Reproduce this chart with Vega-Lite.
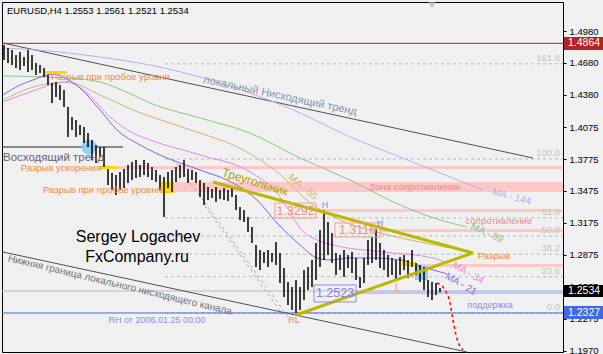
{
"$schema": "https://vega.github.io/schema/vega-lite/v6.json",
"width": 561, "height": 350,
"autosize": {"type": "none"},
"padding": {"left": 2, "top": 2, "right": 40, "bottom": 2},
"background": "#f0f0f0",
"config": {"view": {"stroke": "#000000", "strokeWidth": 1}, "font": "Liberation Sans",
 "axisY": {"domain": false, "grid": false, "tickColor": "#000000", "tickSize": 3, "labelColor": "#000000", "labelFont": "Liberation Sans", "labelFontSize": 9.5, "labelPadding": 3, "labelOverlap": false, "labelBound": false, "labelFlush": false}},
"resolve": {"scale": {"color": "independent"}},
"datasets": {
"bars": [
{"t":0.5,"p":1.4848,"p2":1.4707},{"t":1.5,"p":1.4820,"p2":1.4679},{"t":2.5,"p":1.4801,"p2":1.4660},{"t":3.5,"p":1.4754,"p2":1.4632},{"t":4.5,"p":1.4782,"p2":1.4613},{"t":5.5,"p":1.4735,"p2":1.4651},{"t":6.5,"p":1.4801,"p2":1.4594},{"t":7.5,"p":1.4754,"p2":1.4613},{"t":8.5,"p":1.4679,"p2":1.4566},{"t":9.5,"p":1.4660,"p2":1.4585},
{"t":10.5,"p":1.4632,"p2":1.4547},{"t":11.5,"p":1.4566,"p2":1.4472},{"t":12.5,"p":1.4491,"p2":1.4303},{"t":13.5,"p":1.4500,"p2":1.4359},{"t":14.5,"p":1.4472,"p2":1.4331},{"t":15.5,"p":1.4425,"p2":1.4265},{"t":16.5,"p":1.4265,"p2":1.3983},{"t":17.5,"p":1.4171,"p2":1.4049},{"t":18.5,"p":1.4143,"p2":1.3983},{"t":19.5,"p":1.4096,"p2":1.4002},
{"t":20.5,"p":1.4077,"p2":1.3926},{"t":21.5,"p":1.4020,"p2":1.3889},{"t":22.5,"p":1.3955,"p2":1.3767},{"t":23.5,"p":1.3908,"p2":1.3738},{"t":24.5,"p":1.3889,"p2":1.3795},{"t":25.5,"p":1.3889,"p2":1.3701},{"t":26.5,"p":1.3682,"p2":1.3531},{"t":27.5,"p":1.3644,"p2":1.3484},{"t":28.5,"p":1.3625,"p2":1.3437},{"t":29.5,"p":1.3654,"p2":1.3484},
{"t":30.5,"p":1.3682,"p2":1.3503},{"t":31.5,"p":1.3720,"p2":1.3550},{"t":32.5,"p":1.3748,"p2":1.3578},{"t":33.5,"p":1.3767,"p2":1.3597},{"t":34.5,"p":1.3720,"p2":1.3607},{"t":35.5,"p":1.3767,"p2":1.3625},{"t":36.5,"p":1.3738,"p2":1.3607},{"t":37.5,"p":1.3701,"p2":1.3578},{"t":38.5,"p":1.3672,"p2":1.3560},{"t":39.5,"p":1.3625,"p2":1.3484},
{"t":40.5,"p":1.3607,"p2":1.3230},{"t":41.5,"p":1.3654,"p2":1.3503},{"t":42.5,"p":1.3672,"p2":1.3465},{"t":43.5,"p":1.3701,"p2":1.3560},{"t":44.5,"p":1.3720,"p2":1.3597},{"t":45.5,"p":1.3767,"p2":1.3607},{"t":46.5,"p":1.3682,"p2":1.3550},{"t":47.5,"p":1.3672,"p2":1.3578},{"t":48.5,"p":1.3654,"p2":1.3550},{"t":49.5,"p":1.3578,"p2":1.3418},
{"t":50.5,"p":1.3550,"p2":1.3343},{"t":51.5,"p":1.3512,"p2":1.3390},{"t":52.5,"p":1.3494,"p2":1.3409},{"t":53.5,"p":1.3512,"p2":1.3371},{"t":54.5,"p":1.3484,"p2":1.3400},{"t":55.5,"p":1.3503,"p2":1.3390},{"t":56.5,"p":1.3484,"p2":1.3381},{"t":57.5,"p":1.3512,"p2":1.3418},{"t":58.5,"p":1.3437,"p2":1.3296},{"t":59.5,"p":1.3324,"p2":1.3202},
{"t":60.5,"p":1.3296,"p2":1.3183},{"t":61.5,"p":1.3230,"p2":1.3089},{"t":62.5,"p":1.3136,"p2":1.2986},{"t":63.5,"p":1.2967,"p2":1.2760},{"t":64.5,"p":1.2920,"p2":1.2732},{"t":65.5,"p":1.2901,"p2":1.2798},{"t":66.5,"p":1.2920,"p2":1.2760},{"t":67.5,"p":1.2892,"p2":1.2807},{"t":68.5,"p":1.2995,"p2":1.2779},{"t":69.5,"p":1.2892,"p2":1.2609},
{"t":70.5,"p":1.2751,"p2":1.2478},{"t":71.5,"p":1.2619,"p2":1.2403},{"t":72.5,"p":1.2572,"p2":1.2355},{"t":73.5,"p":1.2638,"p2":1.2327},{"t":74.5,"p":1.2572,"p2":1.2355},{"t":75.5,"p":1.2732,"p2":1.2450},{"t":76.5,"p":1.2760,"p2":1.2544},{"t":77.5,"p":1.2826,"p2":1.2572},{"t":78.5,"p":1.2986,"p2":1.2638},{"t":79.5,"p":1.3108,"p2":1.2760},
{"t":80.5,"p":1.3292,"p2":1.2826},{"t":81.5,"p":1.3183,"p2":1.2873},{"t":82.5,"p":1.3080,"p2":1.2798},{"t":83.5,"p":1.2892,"p2":1.2685},{"t":84.5,"p":1.2873,"p2":1.2732},{"t":85.5,"p":1.2920,"p2":1.2666},{"t":86.5,"p":1.2873,"p2":1.2751},{"t":87.5,"p":1.2901,"p2":1.2704},{"t":88.5,"p":1.2845,"p2":1.2638},{"t":89.5,"p":1.2666,"p2":1.2562},
{"t":90.5,"p":1.2845,"p2":1.2609},{"t":91.5,"p":1.3014,"p2":1.2779},{"t":92.5,"p":1.3042,"p2":1.2798},{"t":93.5,"p":1.3116,"p2":1.2826},{"t":94.5,"p":1.2986,"p2":1.2751},{"t":95.5,"p":1.2920,"p2":1.2732},{"t":96.5,"p":1.2873,"p2":1.2666},{"t":97.5,"p":1.2845,"p2":1.2685},{"t":98.5,"p":1.2826,"p2":1.2638},{"t":99.5,"p":1.2854,"p2":1.2685},
{"t":100.5,"p":1.2873,"p2":1.2732},{"t":101.5,"p":1.2826,"p2":1.2657},{"t":102.5,"p":1.2920,"p2":1.2760},{"t":103.5,"p":1.2798,"p2":1.2685},{"t":104.5,"p":1.2779,"p2":1.2619},{"t":105.5,"p":1.2760,"p2":1.2544},{"t":106.5,"p":1.2638,"p2":1.2478},{"t":107.5,"p":1.2619,"p2":1.2450},{"t":108.5,"p":1.2610,"p2":1.2497},{"t":109.5,"p":1.2561,"p2":1.2521}
],
"ma": [
{"ma":"MA-144","t":0.25,"p":1.4820},{"ma":"MA-144","t":12,"p":1.4792},{"ma":"MA-144","t":24.5,"p":1.4735},{"ma":"MA-144","t":37,"p":1.4660},{"ma":"MA-144","t":49.5,"p":1.4547},{"ma":"MA-144","t":62,"p":1.4397},{"ma":"MA-144","t":74.5,"p":1.4209},{"ma":"MA-144","t":87,"p":1.3983},{"ma":"MA-144","t":99.5,"p":1.3795},{"ma":"MA-144","t":112,"p":1.3607},{"ma":"MA-144","t":120.25,"p":1.3484},
{"ma":"MA-89","t":0.25,"p":1.4557},{"ma":"MA-89","t":16.25,"p":1.4538},{"ma":"MA-89","t":24.5,"p":1.4500},{"ma":"MA-89","t":32.75,"p":1.4378},{"ma":"MA-89","t":37,"p":1.4303},{"ma":"MA-89","t":49.5,"p":1.4162},{"ma":"MA-89","t":62,"p":1.4020},{"ma":"MA-89","t":74.5,"p":1.3785},{"ma":"MA-89","t":87,"p":1.3578},{"ma":"MA-89","t":99.5,"p":1.3343},{"ma":"MA-89","t":109.5,"p":1.3202},{"ma":"MA-89","t":116.25,"p":1.3136},
{"ma":"MA-55","t":0.25,"p":1.4331},{"ma":"MA-55","t":7,"p":1.4444},{"ma":"MA-55","t":16.25,"p":1.4500},{"ma":"MA-55","t":24.5,"p":1.4378},{"ma":"MA-55","t":32.75,"p":1.4237},{"ma":"MA-55","t":41.25,"p":1.4124},{"ma":"MA-55","t":49.5,"p":1.4020},{"ma":"MA-55","t":57.75,"p":1.3908},{"ma":"MA-55","t":68.75,"p":1.3654},{"ma":"MA-55","t":77.75,"p":1.3343},{"ma":"MA-55","t":84.5,"p":1.3202},{"ma":"MA-55","t":94.5,"p":1.3080},{"ma":"MA-55","t":104.5,"p":1.2995},{"ma":"MA-55","t":112,"p":1.2939},
{"ma":"MA-34","t":0.25,"p":1.4312},{"ma":"MA-34","t":7,"p":1.4406},{"ma":"MA-34","t":16.25,"p":1.4500},{"ma":"MA-34","t":21.25,"p":1.4397},{"ma":"MA-34","t":27,"p":1.4171},{"ma":"MA-34","t":32.75,"p":1.4020},{"ma":"MA-34","t":37,"p":1.3955},{"ma":"MA-34","t":49.5,"p":1.3814},{"ma":"MA-34","t":62,"p":1.3654},{"ma":"MA-34","t":68.75,"p":1.3456},{"ma":"MA-34","t":72,"p":1.3277},{"ma":"MA-34","t":74.5,"p":1.3127},{"ma":"MA-34","t":78.75,"p":1.3014},{"ma":"MA-34","t":82.75,"p":1.2967},{"ma":"MA-34","t":95.25,"p":1.2901},{"ma":"MA-34","t":107.75,"p":1.2845},{"ma":"MA-34","t":111.25,"p":1.2798},
{"ma":"MA-21","t":0.25,"p":1.4378},{"ma":"MA-21","t":4.5,"p":1.4472},{"ma":"MA-21","t":7.75,"p":1.4519},{"ma":"MA-21","t":11.25,"p":1.4566},{"ma":"MA-21","t":13.25,"p":1.4576},{"ma":"MA-21","t":15.75,"p":1.4538},{"ma":"MA-21","t":19.5,"p":1.4444},{"ma":"MA-21","t":24.5,"p":1.4237},{"ma":"MA-21","t":28.75,"p":1.4049},{"ma":"MA-21","t":34.5,"p":1.3908},{"ma":"MA-21","t":41.25,"p":1.3785},{"ma":"MA-21","t":49.5,"p":1.3672},{"ma":"MA-21","t":57.75,"p":1.3550},{"ma":"MA-21","t":63.75,"p":1.3390},{"ma":"MA-21","t":68.75,"p":1.3174},{"ma":"MA-21","t":74.5,"p":1.2967},{"ma":"MA-21","t":78.75,"p":1.2845},{"ma":"MA-21","t":82,"p":1.2826},{"ma":"MA-21","t":87,"p":1.2845},{"ma":"MA-21","t":92,"p":1.2845},{"ma":"MA-21","t":99.5,"p":1.2826},{"ma":"MA-21","t":105.25,"p":1.2760},{"ma":"MA-21","t":111.25,"p":1.2694}
],
"pink": [
{"t":24.5,"t2":140.25,"p":1.3710,"p2":1.3682},
{"t":40,"t2":140.25,"p":1.3560,"p2":1.3465},
{"t":78.5,"t2":140.25,"p":1.3306,"p2":1.3277},
{"t":94.5,"t2":140.25,"p":1.3117,"p2":1.3089},
{"t":103.75,"t2":140.25,"p":1.2788,"p2":1.2760}
],
"yellow": [
{"t":10.25,"t2":16.25,"p":1.4604,"p2":1.4576},
{"t":24.25,"t2":29,"p":1.3710,"p2":1.3682},
{"t":39.75,"t2":43,"p":1.3560,"p2":1.3456},
{"t":100,"t2":103.5,"p":1.2807,"p2":1.2769}
],
"hatch": [{"t":103.25,"t2":106.5,"p":1.2769,"p2":1.2638}],
"fib": [
{"lvl":"161.8","t":40.75,"t2":140.25,"p":1.4671},
{"lvl":"100.0","t":40.75,"t2":140.25,"p":1.3776},
{"lvl":"61.8","t":40.75,"t2":140.25,"p":1.3222},
{"lvl":"50.0","t":40.75,"t2":140.25,"p":1.3051},
{"lvl":"38.2","t":40.75,"t2":140.25,"p":1.2881},
{"lvl":"23.6","t":40.75,"t2":140.25,"p":1.2669},
{"lvl":"0.0","t":40.75,"t2":140.25,"p":1.2327}
],
"diag": [
{"t":42.75,"p":1.3776,"t2":71.5,"p2":1.2290},
{"t":50.75,"p":1.3334,"t2":70.25,"p2":1.2308}
],
"channel": [
{"t":0.25,"p":1.4867,"t2":132.75,"p2":1.3785},
{"t":0.25,"p":1.2901,"t2":116.25,"p2":1.1960}
],
"uptrend": [{"t":0.25,"p":1.3889,"t2":30.25,"p2":1.3889}],
"tri": [
{"t":52.75,"p":1.3560,"t2":117.75,"p2":1.2892},
{"t":73.5,"p":1.2308,"t2":117.75,"p2":1.2892}
],
"levels": [{"k":"res","p":1.4864},{"k":"low","p":1.2327},{"k":"bid","p":1.2534}],
"support": [{"t":88.5,"t2":140.25,"p":1.2523}],
"proj": [{"t":108.75,"p":1.2609},{"t":110.75,"p":1.2544},{"t":112,"p":1.2421},{"t":112.75,"p":1.2261},{"t":113.5,"p":1.2120},{"t":115.25,"p":1.1979}],
"circle": [{"t":21.75,"p":1.3889}],
"marker": [{"t":107.5,"p":1.5225}],
"boxes": [
{"g":"s","t":68.25,"t2":78.5,"p":1.3361,"p2":1.3221},
{"g":"s","t":83.25,"t2":94.5,"p":1.3174,"p2":1.3042},
{"g":"l","t":78,"t2":88.5,"p":1.2591,"p2":1.2431}
],
"pbox": [
{"k":"res","text":"1.4864","t":140.5,"t2":150.5,"tx":141.5,"p":1.4924,"p2":1.4801,"pc":1.4864},
{"k":"bid","text":"1.2534","t":140.5,"t2":150.5,"tx":141.5,"p":1.2591,"p2":1.2478,"pc":1.2534},
{"k":"low","text":"1.2327","t":140.5,"t2":150.5,"tx":141.5,"p":1.2393,"p2":1.2271,"pc":1.2327}
],
"texts": [
{"g":"title","text":"EURUSD,H4  1.2553 1.2561 1.2521 1.2534","t":1.25,"p":1.5168},
{"g":"sig","text":"Sergey Logachev","t":34,"p":1.3042},
{"g":"sig","text":"FxCompany.ru","t":33.75,"p":1.2854},
{"g":"orange","text":"Разрыв ускорения","t":14.75,"p":1.3691},
{"g":"orange","text":"Разрыв при пробое уровня","t":27.1,"p":1.4547},
{"g":"orange","text":"Разрыв при пробое уровня","t":25.1,"p":1.3484},
{"g":"orange","text":"Разрыв","t":123,"p":1.2863},
{"g":"salmon","text":"Зона сопротивления","t":103.25,"p":1.3517},
{"g":"salmon","text":"сопротивление","t":124.25,"p":1.3188},
{"g":"salmon","text":"RL","t":73,"p":1.2261},
{"g":"lav","text":"поддержка","t":122,"p":1.2403},
{"g":"lav","text":"RH  от 2006.01.25 00:00","t":38.75,"p":1.2261},
{"g":"lav","text":"H","t":80.75,"p":1.3343},
{"g":"lav","text":"H","t":94.5,"p":1.3174},
{"g":"L","text":"L","t":99,"p":1.2562},
{"g":"trend","text":"локальный Нисходящий тренд","t":69.5,"p":1.4369},
{"g":"lower","text":"Нижняя граница локального нисходящего канала","t":29.5,"p":1.2590},
{"g":"up","text":"Восходящий тренд","t":0.25,"p":1.3785},
{"g":"tri","text":"Треугольник","t":63.25,"p":1.3560},
{"g":"boxS","text":"1.3292","t":73.4,"p":1.3291},
{"g":"boxS","text":"1.3116","t":88.9,"p":1.3108},
{"g":"boxL","text":"1.2523","t":83.25,"p":1.2511},
{"g":"ma144","text":"MA - 144","t":127.4,"p":1.3421},
{"g":"ma89","text":"MA - 89","t":121.25,"p":1.3080},
{"g":"ma55","text":"MA - 55","t":75.25,"p":1.3512},
{"g":"ma34","text":"MA - 34","t":116.5,"p":1.2704},
{"g":"ma21","text":"MA - 21","t":114.75,"p":1.2600}
]
},
"layer": [
{"data":{"name":"pink"},"mark":{"type":"rect","color":"#ffc8c8"},
 "encoding":{"x":{"field":"t","type":"quantitative","scale":{"domain":[0,140.25],"nice":false,"zero":false},"axis":null},"x2":{"field":"t2"},
 "y":{"field":"p","type":"quantitative","scale":{"domain":[1.196,1.5253],"nice":false,"zero":false},"axis":{"orient":"right","values":[1.197,1.2275,1.2575,1.2875,1.3175,1.3475,1.3775,1.4075,1.438,1.468,1.498],"format":".4f","title":null}},
 "y2":{"field":"p2"}}},
{"data":{"name":"fib"},"mark":{"type":"rule","color":"#b8b8b8","strokeDash":[3,3],"strokeWidth":1},
 "encoding":{"x":{"field":"t","type":"quantitative","scale":{"domain":[0,140.25],"nice":false,"zero":false},"axis":null},"x2":{"field":"t2"},
 "y":{"field":"p","type":"quantitative","scale":{"domain":[1.196,1.5253],"nice":false,"zero":false},"axis":{"orient":"right","values":[1.197,1.2275,1.2575,1.2875,1.3175,1.3475,1.3775,1.4075,1.438,1.468,1.498],"format":".4f","title":null}}}},
{"data":{"name":"fib"},"mark":{"type":"text","color":"#c4c4c4","fontSize":9.5,"align":"right","baseline":"bottom","dx":-3,"dy":-1},
 "encoding":{"x":{"field":"t2","type":"quantitative","scale":{"domain":[0,140.25],"nice":false,"zero":false},"axis":null},
 "y":{"field":"p","type":"quantitative","scale":{"domain":[1.196,1.5253],"nice":false,"zero":false},"axis":{"orient":"right","values":[1.197,1.2275,1.2575,1.2875,1.3175,1.3475,1.3775,1.4075,1.438,1.468,1.498],"format":".4f","title":null}},"text":{"field":"lvl"}}},
{"data":{"name":"diag"},"mark":{"type":"rule","color":"#a8a8a8","strokeDash":[3,3],"strokeWidth":1},
 "encoding":{"x":{"field":"t","type":"quantitative","scale":{"domain":[0,140.25],"nice":false,"zero":false},"axis":null},"x2":{"field":"t2"},
 "y":{"field":"p","type":"quantitative","scale":{"domain":[1.196,1.5253],"nice":false,"zero":false},"axis":{"orient":"right","values":[1.197,1.2275,1.2575,1.2875,1.3175,1.3475,1.3775,1.4075,1.438,1.468,1.498],"format":".4f","title":null}},"y2":{"field":"p2"}}},
{"data":{"name":"levels"},"mark":{"type":"rule","strokeWidth":1},
 "encoding":{"y":{"field":"p","type":"quantitative","scale":{"domain":[1.196,1.5253],"nice":false,"zero":false},"axis":{"orient":"right","values":[1.197,1.2275,1.2575,1.2875,1.3175,1.3475,1.3775,1.4075,1.438,1.468,1.498],"format":".4f","title":null}},
 "color":{"field":"k","type":"nominal","scale":{"domain":["res","low","bid"],"range":["#c42020","#4169e1","#bababa"]},"legend":null}}},
{"data":{"name":"support"},"mark":{"type":"rule","color":"#c4c4f4","strokeWidth":3.5},
 "encoding":{"x":{"field":"t","type":"quantitative","scale":{"domain":[0,140.25],"nice":false,"zero":false},"axis":null},"x2":{"field":"t2"},
 "y":{"field":"p","type":"quantitative","scale":{"domain":[1.196,1.5253],"nice":false,"zero":false},"axis":{"orient":"right","values":[1.197,1.2275,1.2575,1.2875,1.3175,1.3475,1.3775,1.4075,1.438,1.468,1.498],"format":".4f","title":null}}}},
{"data":{"name":"channel"},"mark":{"type":"rule","color":"#505050","strokeWidth":1},
 "encoding":{"x":{"field":"t","type":"quantitative","scale":{"domain":[0,140.25],"nice":false,"zero":false},"axis":null},"x2":{"field":"t2"},
 "y":{"field":"p","type":"quantitative","scale":{"domain":[1.196,1.5253],"nice":false,"zero":false},"axis":{"orient":"right","values":[1.197,1.2275,1.2575,1.2875,1.3175,1.3475,1.3775,1.4075,1.438,1.468,1.498],"format":".4f","title":null}},"y2":{"field":"p2"}}},
{"data":{"name":"uptrend"},"mark":{"type":"rule","color":"#6a6a6a","strokeWidth":1.5},
 "encoding":{"x":{"field":"t","type":"quantitative","scale":{"domain":[0,140.25],"nice":false,"zero":false},"axis":null},"x2":{"field":"t2"},
 "y":{"field":"p","type":"quantitative","scale":{"domain":[1.196,1.5253],"nice":false,"zero":false},"axis":{"orient":"right","values":[1.197,1.2275,1.2575,1.2875,1.3175,1.3475,1.3775,1.4075,1.438,1.468,1.498],"format":".4f","title":null}},"y2":{"field":"p2"}}},
{"data":{"name":"ma"},"mark":{"type":"line","strokeWidth":1,"interpolate":"monotone","clip":true},
 "encoding":{"x":{"field":"t","type":"quantitative","scale":{"domain":[0,140.25],"nice":false,"zero":false},"axis":null},
 "y":{"field":"p","type":"quantitative","scale":{"domain":[1.196,1.5253],"nice":false,"zero":false},"axis":{"orient":"right","values":[1.197,1.2275,1.2575,1.2875,1.3175,1.3475,1.3775,1.4075,1.438,1.468,1.498],"format":".4f","title":null}},
 "color":{"field":"ma","type":"nominal","scale":{"domain":["MA-21","MA-34","MA-55","MA-89","MA-144"],"range":["#7f63e6","#e08ae0","#c9b772","#8fc08f","#b8b0e8"]},"legend":null},
 "order":{"field":"t","type":"quantitative"}}},
{"data":{"name":"yellow"},"mark":{"type":"rect","color":"#ffd700"},
 "encoding":{"x":{"field":"t","type":"quantitative","scale":{"domain":[0,140.25],"nice":false,"zero":false},"axis":null},"x2":{"field":"t2"},
 "y":{"field":"p","type":"quantitative","scale":{"domain":[1.196,1.5253],"nice":false,"zero":false},"axis":{"orient":"right","values":[1.197,1.2275,1.2575,1.2875,1.3175,1.3475,1.3775,1.4075,1.438,1.468,1.498],"format":".4f","title":null}},"y2":{"field":"p2"}}},
{"data":{"name":"hatch"},"mark":{"type":"rect","color":"#87c8f0","opacity":0.9},
 "encoding":{"x":{"field":"t","type":"quantitative","scale":{"domain":[0,140.25],"nice":false,"zero":false},"axis":null},"x2":{"field":"t2"},
 "y":{"field":"p","type":"quantitative","scale":{"domain":[1.196,1.5253],"nice":false,"zero":false},"axis":{"orient":"right","values":[1.197,1.2275,1.2575,1.2875,1.3175,1.3475,1.3775,1.4075,1.438,1.468,1.498],"format":".4f","title":null}},"y2":{"field":"p2"}}},
{"data":{"name":"circle"},"mark":{"type":"circle","color":"#87cefa","opacity":0.9,"size":230},
 "encoding":{"x":{"field":"t","type":"quantitative","scale":{"domain":[0,140.25],"nice":false,"zero":false},"axis":null},
 "y":{"field":"p","type":"quantitative","scale":{"domain":[1.196,1.5253],"nice":false,"zero":false},"axis":{"orient":"right","values":[1.197,1.2275,1.2575,1.2875,1.3175,1.3475,1.3775,1.4075,1.438,1.468,1.498],"format":".4f","title":null}}}},
{"data":{"name":"bars"},"mark":{"type":"rule","color":"#000000","strokeWidth":1.5},
 "encoding":{"x":{"field":"t","type":"quantitative","scale":{"domain":[0,140.25],"nice":false,"zero":false},"axis":null},
 "y":{"field":"p","type":"quantitative","scale":{"domain":[1.196,1.5253],"nice":false,"zero":false},"axis":{"orient":"right","values":[1.197,1.2275,1.2575,1.2875,1.3175,1.3475,1.3775,1.4075,1.438,1.468,1.498],"format":".4f","title":null}},"y2":{"field":"p2"}}},
{"data":{"name":"tri"},"mark":{"type":"rule","color":"#bcb800","strokeWidth":3},
 "encoding":{"x":{"field":"t","type":"quantitative","scale":{"domain":[0,140.25],"nice":false,"zero":false},"axis":null},"x2":{"field":"t2"},
 "y":{"field":"p","type":"quantitative","scale":{"domain":[1.196,1.5253],"nice":false,"zero":false},"axis":{"orient":"right","values":[1.197,1.2275,1.2575,1.2875,1.3175,1.3475,1.3775,1.4075,1.438,1.468,1.498],"format":".4f","title":null}},"y2":{"field":"p2"}}},
{"data":{"name":"proj"},"mark":{"type":"line","color":"#ff0000","strokeWidth":1.5,"strokeDash":[3,3],"interpolate":"monotone","clip":true},
 "encoding":{"x":{"field":"t","type":"quantitative","scale":{"domain":[0,140.25],"nice":false,"zero":false},"axis":null},
 "y":{"field":"p","type":"quantitative","scale":{"domain":[1.196,1.5253],"nice":false,"zero":false},"axis":{"orient":"right","values":[1.197,1.2275,1.2575,1.2875,1.3175,1.3475,1.3775,1.4075,1.438,1.468,1.498],"format":".4f","title":null}},"order":{"field":"t","type":"quantitative"}}},
{"data":{"name":"marker"},"mark":{"type":"point","shape":"triangle-down","filled":true,"color":"#a8a8a8","size":50},
 "encoding":{"x":{"field":"t","type":"quantitative","scale":{"domain":[0,140.25],"nice":false,"zero":false},"axis":null},
 "y":{"field":"p","type":"quantitative","scale":{"domain":[1.196,1.5253],"nice":false,"zero":false},"axis":{"orient":"right","values":[1.197,1.2275,1.2575,1.2875,1.3175,1.3475,1.3775,1.4075,1.438,1.468,1.498],"format":".4f","title":null}}}},
{"data":{"name":"boxes"},"transform":[{"filter":"datum.g == 's'"}],"mark":{"type":"rect","fillOpacity":0,"stroke":"#f0a090","strokeWidth":1},
 "encoding":{"x":{"field":"t","type":"quantitative","scale":{"domain":[0,140.25],"nice":false,"zero":false},"axis":null},"x2":{"field":"t2"},
 "y":{"field":"p","type":"quantitative","scale":{"domain":[1.196,1.5253],"nice":false,"zero":false},"axis":{"orient":"right","values":[1.197,1.2275,1.2575,1.2875,1.3175,1.3475,1.3775,1.4075,1.438,1.468,1.498],"format":".4f","title":null}},"y2":{"field":"p2"}}},
{"data":{"name":"boxes"},"transform":[{"filter":"datum.g == 'l'"}],"mark":{"type":"rect","fillOpacity":0,"stroke":"#8c8ce8","strokeWidth":1},
 "encoding":{"x":{"field":"t","type":"quantitative","scale":{"domain":[0,140.25],"nice":false,"zero":false},"axis":null},"x2":{"field":"t2"},
 "y":{"field":"p","type":"quantitative","scale":{"domain":[1.196,1.5253],"nice":false,"zero":false},"axis":{"orient":"right","values":[1.197,1.2275,1.2575,1.2875,1.3175,1.3475,1.3775,1.4075,1.438,1.468,1.498],"format":".4f","title":null}},"y2":{"field":"p2"}}},
{"data":{"name":"texts"},"transform":[{"filter":"datum.g == 'title'"}],"mark":{"type":"text","color":"#000000","fontSize":9.5,"align":"left"},
 "encoding":{"x":{"field":"t","type":"quantitative","scale":{"domain":[0,140.25],"nice":false,"zero":false},"axis":null},
 "y":{"field":"p","type":"quantitative","scale":{"domain":[1.196,1.5253],"nice":false,"zero":false},"axis":{"orient":"right","values":[1.197,1.2275,1.2575,1.2875,1.3175,1.3475,1.3775,1.4075,1.438,1.468,1.498],"format":".4f","title":null}},"text":{"field":"text"}}},
{"data":{"name":"texts"},"transform":[{"filter":"datum.g == 'sig'"}],"mark":{"type":"text","color":"#000000","fontSize":16},
 "encoding":{"x":{"field":"t","type":"quantitative","scale":{"domain":[0,140.25],"nice":false,"zero":false},"axis":null},
 "y":{"field":"p","type":"quantitative","scale":{"domain":[1.196,1.5253],"nice":false,"zero":false},"axis":{"orient":"right","values":[1.197,1.2275,1.2575,1.2875,1.3175,1.3475,1.3775,1.4075,1.438,1.468,1.498],"format":".4f","title":null}},"text":{"field":"text"}}},
{"data":{"name":"texts"},"transform":[{"filter":"datum.g == 'orange'"}],"mark":{"type":"text","color":"#ef8a3e","fontSize":9.5},
 "encoding":{"x":{"field":"t","type":"quantitative","scale":{"domain":[0,140.25],"nice":false,"zero":false},"axis":null},
 "y":{"field":"p","type":"quantitative","scale":{"domain":[1.196,1.5253],"nice":false,"zero":false},"axis":{"orient":"right","values":[1.197,1.2275,1.2575,1.2875,1.3175,1.3475,1.3775,1.4075,1.438,1.468,1.498],"format":".4f","title":null}},"text":{"field":"text"}}},
{"data":{"name":"texts"},"transform":[{"filter":"datum.g == 'salmon'"}],"mark":{"type":"text","color":"#f08878","fontSize":9.5},
 "encoding":{"x":{"field":"t","type":"quantitative","scale":{"domain":[0,140.25],"nice":false,"zero":false},"axis":null},
 "y":{"field":"p","type":"quantitative","scale":{"domain":[1.196,1.5253],"nice":false,"zero":false},"axis":{"orient":"right","values":[1.197,1.2275,1.2575,1.2875,1.3175,1.3475,1.3775,1.4075,1.438,1.468,1.498],"format":".4f","title":null}},"text":{"field":"text"}}},
{"data":{"name":"texts"},"transform":[{"filter":"datum.g == 'lav'"}],"mark":{"type":"text","color":"#8c8ce8","fontSize":9},
 "encoding":{"x":{"field":"t","type":"quantitative","scale":{"domain":[0,140.25],"nice":false,"zero":false},"axis":null},
 "y":{"field":"p","type":"quantitative","scale":{"domain":[1.196,1.5253],"nice":false,"zero":false},"axis":{"orient":"right","values":[1.197,1.2275,1.2575,1.2875,1.3175,1.3475,1.3775,1.4075,1.438,1.468,1.498],"format":".4f","title":null}},"text":{"field":"text"}}},
{"data":{"name":"texts"},"transform":[{"filter":"datum.g == 'L'"}],"mark":{"type":"text","color":"#f0a070","fontSize":11},
 "encoding":{"x":{"field":"t","type":"quantitative","scale":{"domain":[0,140.25],"nice":false,"zero":false},"axis":null},
 "y":{"field":"p","type":"quantitative","scale":{"domain":[1.196,1.5253],"nice":false,"zero":false},"axis":{"orient":"right","values":[1.197,1.2275,1.2575,1.2875,1.3175,1.3475,1.3775,1.4075,1.438,1.468,1.498],"format":".4f","title":null}},"text":{"field":"text"}}},
{"data":{"name":"texts"},"transform":[{"filter":"datum.g == 'trend'"}],"mark":{"type":"text","color":"#8494a8","fontSize":11,"angle":12},
 "encoding":{"x":{"field":"t","type":"quantitative","scale":{"domain":[0,140.25],"nice":false,"zero":false},"axis":null},
 "y":{"field":"p","type":"quantitative","scale":{"domain":[1.196,1.5253],"nice":false,"zero":false},"axis":{"orient":"right","values":[1.197,1.2275,1.2575,1.2875,1.3175,1.3475,1.3775,1.4075,1.438,1.468,1.498],"format":".4f","title":null}},"text":{"field":"text"}}},
{"data":{"name":"texts"},"transform":[{"filter":"datum.g == 'lower'"}],"mark":{"type":"text","color":"#707070","fontSize":10,"angle":13.5},
 "encoding":{"x":{"field":"t","type":"quantitative","scale":{"domain":[0,140.25],"nice":false,"zero":false},"axis":null},
 "y":{"field":"p","type":"quantitative","scale":{"domain":[1.196,1.5253],"nice":false,"zero":false},"axis":{"orient":"right","values":[1.197,1.2275,1.2575,1.2875,1.3175,1.3475,1.3775,1.4075,1.438,1.468,1.498],"format":".4f","title":null}},"text":{"field":"text"}}},
{"data":{"name":"texts"},"transform":[{"filter":"datum.g == 'up'"}],"mark":{"type":"text","color":"#646474","fontSize":11.5,"align":"left"},
 "encoding":{"x":{"field":"t","type":"quantitative","scale":{"domain":[0,140.25],"nice":false,"zero":false},"axis":null},
 "y":{"field":"p","type":"quantitative","scale":{"domain":[1.196,1.5253],"nice":false,"zero":false},"axis":{"orient":"right","values":[1.197,1.2275,1.2575,1.2875,1.3175,1.3475,1.3775,1.4075,1.438,1.468,1.498],"format":".4f","title":null}},"text":{"field":"text"}}},
{"data":{"name":"texts"},"transform":[{"filter":"datum.g == 'tri'"}],"mark":{"type":"text","color":"#a8a400","fontSize":12,"angle":17},
 "encoding":{"x":{"field":"t","type":"quantitative","scale":{"domain":[0,140.25],"nice":false,"zero":false},"axis":null},
 "y":{"field":"p","type":"quantitative","scale":{"domain":[1.196,1.5253],"nice":false,"zero":false},"axis":{"orient":"right","values":[1.197,1.2275,1.2575,1.2875,1.3175,1.3475,1.3775,1.4075,1.438,1.468,1.498],"format":".4f","title":null}},"text":{"field":"text"}}},
{"data":{"name":"texts"},"transform":[{"filter":"datum.g == 'boxS'"}],"mark":{"type":"text","color":"#f0907a","fontSize":12.5},
 "encoding":{"x":{"field":"t","type":"quantitative","scale":{"domain":[0,140.25],"nice":false,"zero":false},"axis":null},
 "y":{"field":"p","type":"quantitative","scale":{"domain":[1.196,1.5253],"nice":false,"zero":false},"axis":{"orient":"right","values":[1.197,1.2275,1.2575,1.2875,1.3175,1.3475,1.3775,1.4075,1.438,1.468,1.498],"format":".4f","title":null}},"text":{"field":"text"}}},
{"data":{"name":"texts"},"transform":[{"filter":"datum.g == 'boxL'"}],"mark":{"type":"text","color":"#8080e8","fontSize":12.5},
 "encoding":{"x":{"field":"t","type":"quantitative","scale":{"domain":[0,140.25],"nice":false,"zero":false},"axis":null},
 "y":{"field":"p","type":"quantitative","scale":{"domain":[1.196,1.5253],"nice":false,"zero":false},"axis":{"orient":"right","values":[1.197,1.2275,1.2575,1.2875,1.3175,1.3475,1.3775,1.4075,1.438,1.468,1.498],"format":".4f","title":null}},"text":{"field":"text"}}},
{"data":{"name":"texts"},"transform":[{"filter":"datum.g == 'ma144'"}],"mark":{"type":"text","color":"#b4ace8","fontSize":10,"angle":15},
 "encoding":{"x":{"field":"t","type":"quantitative","scale":{"domain":[0,140.25],"nice":false,"zero":false},"axis":null},
 "y":{"field":"p","type":"quantitative","scale":{"domain":[1.196,1.5253],"nice":false,"zero":false},"axis":{"orient":"right","values":[1.197,1.2275,1.2575,1.2875,1.3175,1.3475,1.3775,1.4075,1.438,1.468,1.498],"format":".4f","title":null}},"text":{"field":"text"}}},
{"data":{"name":"texts"},"transform":[{"filter":"datum.g == 'ma89'"}],"mark":{"type":"text","color":"#8fc08f","fontSize":10,"angle":25},
 "encoding":{"x":{"field":"t","type":"quantitative","scale":{"domain":[0,140.25],"nice":false,"zero":false},"axis":null},
 "y":{"field":"p","type":"quantitative","scale":{"domain":[1.196,1.5253],"nice":false,"zero":false},"axis":{"orient":"right","values":[1.197,1.2275,1.2575,1.2875,1.3175,1.3475,1.3775,1.4075,1.438,1.468,1.498],"format":".4f","title":null}},"text":{"field":"text"}}},
{"data":{"name":"texts"},"transform":[{"filter":"datum.g == 'ma55'"}],"mark":{"type":"text","color":"#c9b772","fontSize":10,"angle":40},
 "encoding":{"x":{"field":"t","type":"quantitative","scale":{"domain":[0,140.25],"nice":false,"zero":false},"axis":null},
 "y":{"field":"p","type":"quantitative","scale":{"domain":[1.196,1.5253],"nice":false,"zero":false},"axis":{"orient":"right","values":[1.197,1.2275,1.2575,1.2875,1.3175,1.3475,1.3775,1.4075,1.438,1.468,1.498],"format":".4f","title":null}},"text":{"field":"text"}}},
{"data":{"name":"texts"},"transform":[{"filter":"datum.g == 'ma34'"}],"mark":{"type":"text","color":"#d890d8","fontSize":10,"angle":30},
 "encoding":{"x":{"field":"t","type":"quantitative","scale":{"domain":[0,140.25],"nice":false,"zero":false},"axis":null},
 "y":{"field":"p","type":"quantitative","scale":{"domain":[1.196,1.5253],"nice":false,"zero":false},"axis":{"orient":"right","values":[1.197,1.2275,1.2575,1.2875,1.3175,1.3475,1.3775,1.4075,1.438,1.468,1.498],"format":".4f","title":null}},"text":{"field":"text"}}},
{"data":{"name":"texts"},"transform":[{"filter":"datum.g == 'ma21'"}],"mark":{"type":"text","color":"#8a70e0","fontSize":10,"angle":30},
 "encoding":{"x":{"field":"t","type":"quantitative","scale":{"domain":[0,140.25],"nice":false,"zero":false},"axis":null},
 "y":{"field":"p","type":"quantitative","scale":{"domain":[1.196,1.5253],"nice":false,"zero":false},"axis":{"orient":"right","values":[1.197,1.2275,1.2575,1.2875,1.3175,1.3475,1.3775,1.4075,1.438,1.468,1.498],"format":".4f","title":null}},"text":{"field":"text"}}},
{"data":{"name":"pbox"},"mark":{"type":"rect"},
 "encoding":{"x":{"field":"t","type":"quantitative","scale":{"domain":[0,140.25],"nice":false,"zero":false},"axis":null},"x2":{"field":"t2"},
 "y":{"field":"p","type":"quantitative","scale":{"domain":[1.196,1.5253],"nice":false,"zero":false},"axis":{"orient":"right","values":[1.197,1.2275,1.2575,1.2875,1.3175,1.3475,1.3775,1.4075,1.438,1.468,1.498],"format":".4f","title":null}},"y2":{"field":"p2"},
 "color":{"field":"k","type":"nominal","scale":{"domain":["res","bid","low"],"range":["#b42222","#000000","#4169e1"]},"legend":null}}},
{"data":{"name":"pbox"},"mark":{"type":"text","color":"#ffffff","fontSize":10.5,"align":"left"},
 "encoding":{"x":{"field":"tx","type":"quantitative","scale":{"domain":[0,140.25],"nice":false,"zero":false},"axis":null},
 "y":{"field":"pc","type":"quantitative","scale":{"domain":[1.196,1.5253],"nice":false,"zero":false},"axis":{"orient":"right","values":[1.197,1.2275,1.2575,1.2875,1.3175,1.3475,1.3775,1.4075,1.438,1.468,1.498],"format":".4f","title":null}},"text":{"field":"text"}}}
]
}
